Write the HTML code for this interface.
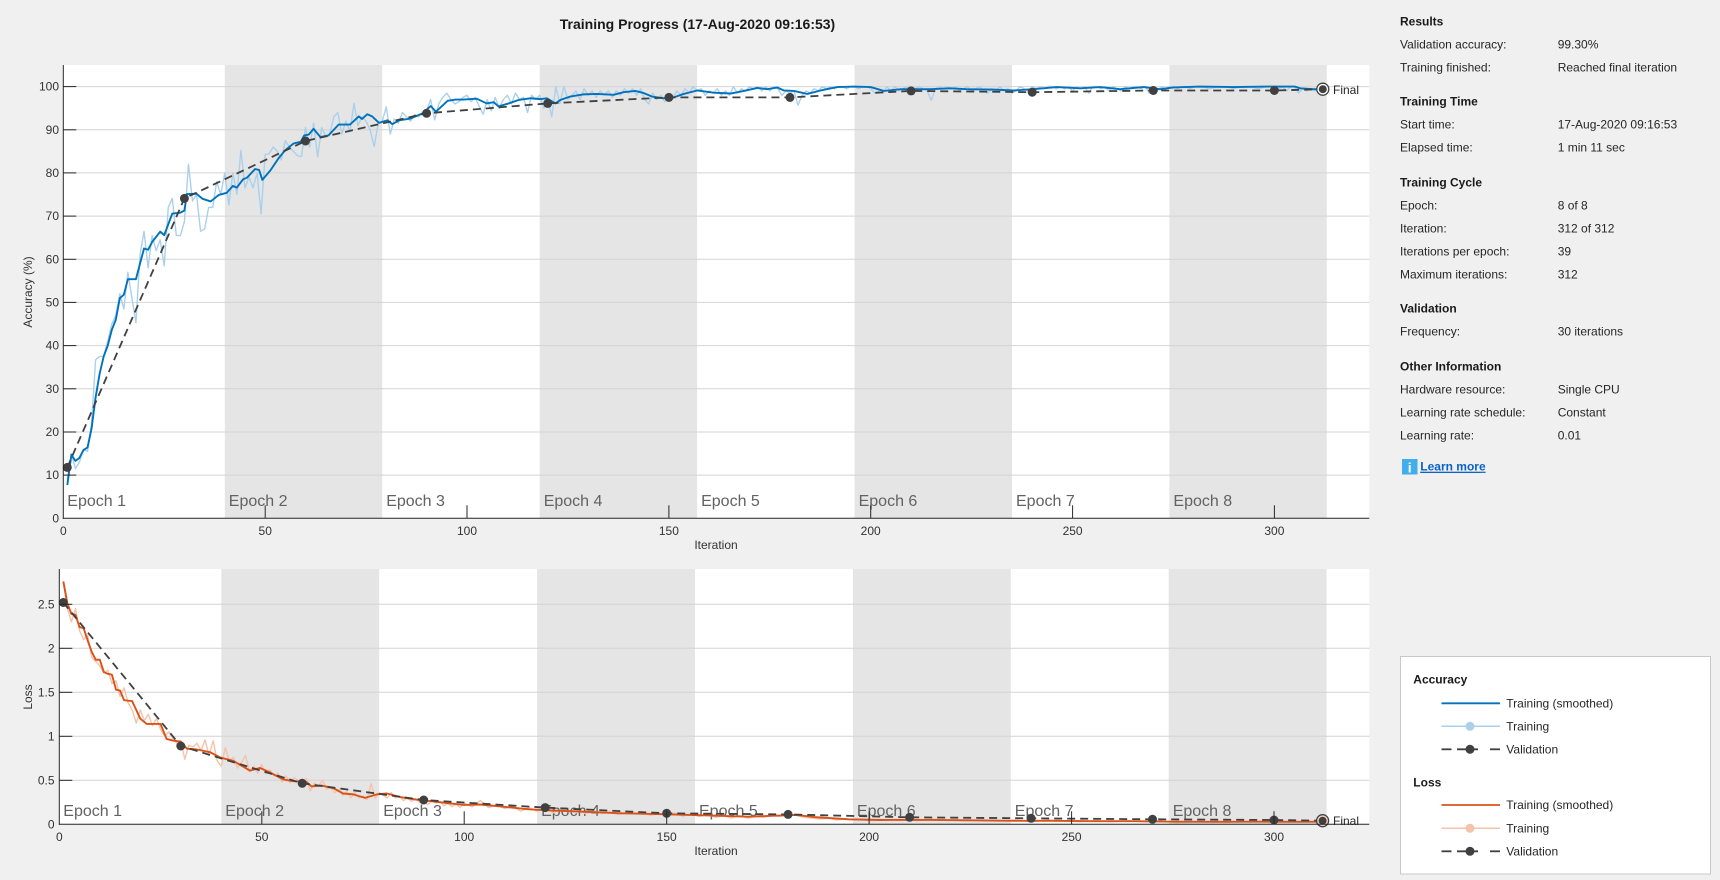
<!DOCTYPE html>
<html>
<head>
<meta charset="utf-8">
<style>
  html,body{margin:0;padding:0;background:#f0f0f0;}
  body{width:1720px;height:880px;overflow:hidden;}
  svg{display:block;}
  text{font-family:"Liberation Sans",Arial,sans-serif;}
</style>
</head>
<body>
<svg width="1720" height="880" viewBox="0 0 1720 880" xmlns="http://www.w3.org/2000/svg">
  <rect x="0" y="0" width="1720" height="880" fill="#f0f0f0"/>

  <!-- Title -->
  <text x="697.5" y="29" font-size="14" font-weight="bold" fill="#1a1a1a" text-anchor="middle">Training Progress (17-Aug-2020 09:16:53)</text>

  <!-- ================= ACCURACY AXES ================= -->
  <rect x="63.3" y="65" width="1306" height="453.3" fill="#ffffff"/>
  <g fill="#e5e5e5">
    <rect x="224.8" y="65" width="157.4" height="453.3"/>
    <rect x="539.7" y="65" width="157.4" height="453.3"/>
    <rect x="854.6" y="65" width="157.4" height="453.3"/>
    <rect x="1169.4" y="65" width="157.4" height="453.3"/>
  </g>
  <g stroke="#d4d4d4" stroke-width="1">
    <line x1="63.3" x2="1369.3" y1="475.1" y2="475.1"/>
    <line x1="63.3" x2="1369.3" y1="432.0" y2="432.0"/>
    <line x1="63.3" x2="1369.3" y1="388.8" y2="388.8"/>
    <line x1="63.3" x2="1369.3" y1="345.6" y2="345.6"/>
    <line x1="63.3" x2="1369.3" y1="302.4" y2="302.4"/>
    <line x1="63.3" x2="1369.3" y1="259.3" y2="259.3"/>
    <line x1="63.3" x2="1369.3" y1="216.1" y2="216.1"/>
    <line x1="63.3" x2="1369.3" y1="172.9" y2="172.9"/>
    <line x1="63.3" x2="1369.3" y1="129.8" y2="129.8"/>
    <line x1="63.3" x2="1369.3" y1="86.6" y2="86.6"/>
  </g>
  <!-- epoch labels -->
  <g font-size="16" fill="#626262">
    <text x="67.3" y="506">Epoch 1</text>
    <text x="228.8" y="506">Epoch 2</text>
    <text x="386.2" y="506">Epoch 3</text>
    <text x="543.7" y="506">Epoch 4</text>
    <text x="701.1" y="506">Epoch 5</text>
    <text x="858.6" y="506">Epoch 6</text>
    <text x="1016" y="506">Epoch 7</text>
    <text x="1173.4" y="506">Epoch 8</text>
  </g>

  <!-- accuracy data -->
  <g transform="matrix(4.037,0,0,-4.317,63.3,518.3)" fill="none" stroke-linejoin="round">
    <polyline vector-effect="non-scaling-stroke" stroke="#abd0ec" stroke-width="1.4" points="1,9 2,15 3,11.5 4,13 5,16 6,15.5 7,22 8,36.7 9,37.5 10,37.5 11,41 12,45 13,47 14,52 15,48.5 16,57 17,51 18,45.3 19,61 20,66.5 21,58 22,65.5 23,62 24,64.5 25,58.5 26,72 27,74.1 28,65.5 29,65.5 30,68.7 31,82 32,73.5 33,75 34,66.5 35,67 36,72 37,72 38,78 39,75 40,80 41,72.6 42,80 43,75 44,85.3 45,76.5 46,79 47,76.5 48,80 49,70.5 50,84.3 51,84.5 52,86 53,85 54,83 55,87.5 56,86 57,85 58,84 59,83.8 60,90.5 61,86 62,91.5 63,83.7 64,90.5 65,88.5 66,89 67,93 68,94 69,89 70,92 71,89.5 72,96.1 73,91 74,93 75,92 76,90 77,86.1 78,91.5 79,92 80,95.3 81,89 82,92.5 83,91.5 84,94 85,93 86,92 87,93.5 88,93 89,94 90,94.5 91,97 92,92.3 93,96 94,97.5 95,98.5 96,97 97,96 98,96.5 99,97.5 100,98 101,96.5 102,97.5 103,95.5 104,93.6 105,97 106,94.4 107,97.5 108,95 109,97 110,98 111,96 112,98.5 113,97 114,97.5 115,94 116,98 117,97 118,98 119,95 120,97 121,93 122,100 123,96 124,100 125,97 126,98 127,99 128,97 129,99.5 130,98 131,99 132,97.5 133,99 134,98 135,99 136,97.5 137,99 138,98 139,99.5 140,98.5 141,99.5 142,98 143,99.5 144,97 145,96 146,98.5 147,97 148,98 149,96.5 150,98 151,97.5 152,99 153,98 154,99.5 155,98.5 156,100 157,99 158,99.5 159,98 160,99 161,98.5 162,99.5 163,98 164,99 165,98 166,100 167,98.5 168,99.5 169,99 170,100 171,99.5 172,100 173,99 174,100 175,99 176,100 177,99.5 178,98 179,99 180,98.5 181,99 182,95.7 183,98 184,99 185,98.5 186,99.5 187,99 188,100 189,99.5 190,100 191,99.5 192,100 193,100 194,99.5 195,100 196,100 197,99.5 198,100 199,100 200,99.5 201,98.5 202,99 203,98.5 204,100 205,99 206,100 207,99 208,99.5 209,100 210,99 211,99.5 212,100 213,99.5 214,99 215,96.8 216,99.5 217,100 218,99.5 219,100 220,99.5 221,100 222,99 223,99.5 224,100 225,99 226,99.5 227,100 228,99 229,98.5 230,99.5 231,99 232,100 233,99 234,99.5 235,98.5 236,99 237,100 238,99.5 239,99 240,100 241,99.5 242,100 243,99.5 244,100 245,100 246,99.5 247,100 248,99.5 249,100 250,99 251,100 252,99.5 253,100 254,98.5 255,100 256,100 257,99.5 258,100 259,99 260,100 261,99.5 262,99 263,100 264,99.5 265,100 266,100 267,99.5 268,100 269,98.5 270,99.5 271,99 272,100 273,99.5 274,100 275,100 276,99.5 277,100 278,100 279,99.5 280,100 282,100 284,99.5 286,100 288,100 290,99.5 292,100 294,100 296,99.5 298,100 300,100 301,99.5 302,100 303,99 304,100 305,100 306,98.5 307,99.5 308,99 309,99.5 310,99 311,99.5 312,99.3"/>
    <polyline vector-effect="non-scaling-stroke" stroke="#0072bd" stroke-width="1.9" points="1,7.7 2,14.7 3,13.3 4,14 5,15.8 6,16.4 7,20.8 8,28 9,33.5 10,37.5 11,40 12,43.6 13,46 14,51 15,51.8 16,55.4 18,55.4 19,59 20,62.5 21,62.2 22,64 24,66.4 25,65.6 27,70.6 29,70.8 30,71.3 30.6,75.1 33,75.2 34.5,74 36.5,73.4 38.5,74.9 40.5,75.4 42,77 43,76.6 44.5,78.5 45.5,78.9 47.5,80.9 48.5,80.7 49.3,78.4 51.3,80.6 53.4,83.5 55,85.3 57,86.8 58.8,87.2 59.7,88.7 60.8,88.9 62,90.2 63.7,88.3 65.7,88.7 68.2,91.2 71,91.2 73.2,93.1 74,92.5 75.3,93.6 76.5,93.1 78.2,91.6 80.3,92.2 81.5,91.3 83.2,92.2 86,92.6 89,93.8 91,95.5 92.3,94.2 95.2,96.7 97.2,97 99.1,97 102.4,97.2 104.9,96.1 106.6,96.4 107.8,95.4 110.3,96.1 112.8,96.9 115.7,97.3 118.2,97.1 119.8,97.3 121.9,96.1 123.1,96.9 125.6,97.7 128.9,98.2 132.2,98.3 136.3,98.1 138.8,98.7 141.7,99 143.8,98.5 145.8,97.7 148.7,97.3 151.2,97.5 153.7,98.3 157,99.1 161.1,98.6 165.3,98.4 168.6,99 171.9,99.7 174.4,99.4 176.9,99.8 178.5,99.1 181,99 184.3,98.3 187.6,99.1 191.7,99.9 195.9,100 200,99.9 203.3,99 207.5,99.4 211.6,99.4 214.7,99.4 219.7,99.6 223.8,99.4 230.4,99.3 235.4,99.1 240.3,99.4 246.1,99.9 251.9,99.6 256.8,99.9 261.8,99.4 267.6,99.9 271.7,99.4 275,99.8 281.6,100 289.9,99.9 298.1,100 305.1,100 306.4,99.6 309.7,99.4 312,99.4"/>
  </g>
  <!-- accuracy validation -->
  <polyline fill="none" stroke="#404040" stroke-width="1.8" stroke-dasharray="8,5" points="67.3,467.4 184.4,198.4 305.5,141.0 426.6,113.3 547.7,103.4 668.9,97.4 790.0,97.4 911.1,90.9 1032.2,92.2 1153.3,90.5 1274.4,90.5 1322.8,89.2"/>
  <g fill="#404040">
    <circle cx="67.3" cy="467.4" r="4.5"/>
    <circle cx="184.4" cy="198.4" r="4.5"/>
    <circle cx="305.5" cy="141.0" r="4.5"/>
    <circle cx="426.6" cy="113.3" r="4.5"/>
    <circle cx="547.7" cy="103.4" r="4.5"/>
    <circle cx="668.9" cy="97.4" r="4.5"/>
    <circle cx="790.0" cy="97.4" r="4.5"/>
    <circle cx="911.1" cy="90.9" r="4.5"/>
    <circle cx="1032.2" cy="92.2" r="4.5"/>
    <circle cx="1153.3" cy="90.5" r="4.5"/>
    <circle cx="1274.4" cy="90.5" r="4.5"/>
  </g>
  <circle cx="1322.8" cy="89.2" r="6" fill="#ffffff" stroke="#404040" stroke-width="1.3"/>
  <circle cx="1322.8" cy="89.2" r="4" fill="#404040"/>
  <text x="1333" y="94" font-size="12" fill="#262626">Final</text>

  <!-- axes lines & ticks -->
  <g stroke="#262626" stroke-width="1">
    <line x1="63.3" y1="65" x2="63.3" y2="518.8"/>
    <line x1="62.8" y1="518.3" x2="1369.3" y2="518.3"/>
    <line x1="63.3" x2="76.3" y1="475.1" y2="475.1"/>
    <line x1="63.3" x2="76.3" y1="432.0" y2="432.0"/>
    <line x1="63.3" x2="76.3" y1="388.8" y2="388.8"/>
    <line x1="63.3" x2="76.3" y1="345.6" y2="345.6"/>
    <line x1="63.3" x2="76.3" y1="302.4" y2="302.4"/>
    <line x1="63.3" x2="76.3" y1="259.3" y2="259.3"/>
    <line x1="63.3" x2="76.3" y1="216.1" y2="216.1"/>
    <line x1="63.3" x2="76.3" y1="172.9" y2="172.9"/>
    <line x1="63.3" x2="76.3" y1="129.8" y2="129.8"/>
    <line x1="63.3" x2="76.3" y1="86.6" y2="86.6"/>
    <line x1="265.2" x2="265.2" y1="518.3" y2="505.3"/>
    <line x1="467.0" x2="467.0" y1="518.3" y2="505.3"/>
    <line x1="668.9" x2="668.9" y1="518.3" y2="505.3"/>
    <line x1="870.7" x2="870.7" y1="518.3" y2="505.3"/>
    <line x1="1072.6" x2="1072.6" y1="518.3" y2="505.3"/>
    <line x1="1274.4" x2="1274.4" y1="518.3" y2="505.3"/>
  </g>
  <g font-size="12" fill="#333333" text-anchor="end">
    <text x="59" y="522.3">0</text>
    <text x="59" y="479.1">10</text>
    <text x="59" y="436.0">20</text>
    <text x="59" y="392.8">30</text>
    <text x="59" y="349.6">40</text>
    <text x="59" y="306.4">50</text>
    <text x="59" y="263.3">60</text>
    <text x="59" y="220.1">70</text>
    <text x="59" y="176.9">80</text>
    <text x="59" y="133.8">90</text>
    <text x="59" y="90.6">100</text>
  </g>
  <g font-size="12" fill="#333333" text-anchor="middle">
    <text x="63.3" y="535">0</text>
    <text x="265.2" y="535">50</text>
    <text x="467.0" y="535">100</text>
    <text x="668.9" y="535">150</text>
    <text x="870.7" y="535">200</text>
    <text x="1072.6" y="535">250</text>
    <text x="1274.4" y="535">300</text>
    <text x="716" y="549">Iteration</text>
  </g>
  <text transform="translate(32,292) rotate(-90)" font-size="12" fill="#333333" text-anchor="middle">Accuracy (%)</text>

  <!-- ================= LOSS AXES ================= -->
  <rect x="59.3" y="569" width="1310" height="255.3" fill="#ffffff"/>
  <g fill="#e5e5e5">
    <rect x="221.3" y="569" width="157.9" height="255.3"/>
    <rect x="537.1" y="569" width="157.9" height="255.3"/>
    <rect x="852.9" y="569" width="157.9" height="255.3"/>
    <rect x="1168.7" y="569" width="157.9" height="255.3"/>
  </g>
  <g stroke="#d4d4d4" stroke-width="1">
    <line x1="59.3" x2="1369.3" y1="780.3" y2="780.3"/>
    <line x1="59.3" x2="1369.3" y1="736.3" y2="736.3"/>
    <line x1="59.3" x2="1369.3" y1="692.3" y2="692.3"/>
    <line x1="59.3" x2="1369.3" y1="648.3" y2="648.3"/>
    <line x1="59.3" x2="1369.3" y1="604.3" y2="604.3"/>
  </g>
  <g font-size="16" fill="#626262">
    <text x="63.3" y="816">Epoch 1</text>
    <text x="225.3" y="816">Epoch 2</text>
    <text x="383.2" y="816">Epoch 3</text>
    <text x="541.1" y="816">Epoch 4</text>
    <text x="699" y="816">Epoch 5</text>
    <text x="856.9" y="816">Epoch 6</text>
    <text x="1014.8" y="816">Epoch 7</text>
    <text x="1172.7" y="816">Epoch 8</text>
  </g>

  <g transform="matrix(4.049,0,0,-88,59.3,824.3)" fill="none" stroke-linejoin="round">
    <polyline vector-effect="non-scaling-stroke" stroke="#f4c3ab" stroke-width="1.4" points="1,2.76 2,2.45 3,2.3 4,2.45 5,2.2 6,2.1 7,2.15 8,1.9 9,1.85 10,1.8 11,1.72 12,1.75 13,1.6 14,1.63 15,1.45 16,1.55 17,1.38 18,1.3 19,1.15 20,1.3 21,1.18 22,1.25 23,1.12 24,1.2 25,1.08 26,1.0 27,1.05 28,0.98 29,0.92 30,0.95 31,0.74 32,0.9 33,0.88 34,0.92 35,0.84 36,0.96 37,0.78 38,0.95 39,0.72 40,0.66 41,0.87 42,0.72 43,0.76 44,0.64 45,0.7 46,0.78 47,0.6 48,0.66 49,0.58 50,0.68 51,0.57 52,0.62 53,0.55 54,0.58 55,0.48 56,0.55 57,0.47 58,0.53 59,0.5 60,0.44 61,0.52 62,0.38 63,0.47 64,0.43 65,0.5 66,0.4 67,0.42 68,0.36 69,0.4 70,0.33 71,0.37 72,0.3 73,0.36 74,0.3 75,0.32 76,0.28 77,0.46 78,0.3 79,0.36 80,0.33 81,0.3 82,0.36 83,0.3 84,0.32 85,0.27 86,0.3 87,0.26 88,0.29 89,0.25 90,0.27 91,0.22 92,0.27 93,0.24 94,0.26 95,0.21 96,0.24 97,0.2 98,0.23 99,0.19 100,0.24 102,0.2 104,0.27 106,0.19 108,0.22 110,0.18 112,0.2 114,0.15 116,0.19 118,0.15 120,0.18 122,0.13 124,0.17 126,0.14 128,0.16 130,0.12 132,0.15 134,0.12 136,0.14 138,0.11 140,0.13 142,0.12 144,0.14 146,0.1 148,0.12 150,0.1 152,0.13 154,0.09 156,0.12 158,0.09 160,0.11 162,0.08 164,0.1 166,0.07 168,0.1 170,0.07 172,0.09 174,0.08 176,0.1 178,0.09 180,0.12 182,0.1 184,0.08 186,0.07 188,0.06 190,0.07 192,0.05 194,0.06 196,0.05 198,0.06 200,0.04 204,0.05 208,0.06 212,0.04 216,0.06 220,0.05 224,0.04 228,0.05 232,0.04 236,0.05 240,0.03 244,0.05 248,0.04 252,0.03 256,0.04 260,0.03 264,0.04 268,0.03 272,0.04 276,0.02 280,0.03 284,0.03 288,0.02 292,0.03 296,0.03 300,0.02 304,0.03 308,0.03 312,0.03"/>
    <polyline vector-effect="non-scaling-stroke" stroke="#d95319" stroke-width="1.9" points="1,2.76 2,2.51 3,2.39 4,2.38 5,2.24 6,2.23 7,2.09 8,1.96 9,1.87 10,1.87 11,1.73 12,1.71 13,1.7 14,1.53 15,1.52 16,1.41 18,1.4 20,1.2 21.6,1.14 25,1.14 26.5,0.97 28.2,0.95 30,0.94 31.5,0.86 34,0.85 37.2,0.82 39.7,0.76 43,0.72 47.1,0.61 49.6,0.64 52,0.59 55.3,0.51 57.8,0.49 61.1,0.48 62.3,0.43 64.8,0.44 67.7,0.41 70.1,0.35 72.6,0.34 75.5,0.3 78.4,0.34 80.9,0.35 84.2,0.31 88.3,0.28 92.4,0.26 96,0.24 100,0.22 104,0.225 109.6,0.2 116,0.17 120,0.16 129,0.144 139,0.125 150,0.114 159,0.102 170,0.087 182,0.106 187,0.08 195,0.057 203,0.049 215,0.05 225,0.045 235,0.04 245,0.04 255,0.035 265,0.035 275,0.03 285,0.028 295,0.03 305,0.028 312,0.03"/>
  </g>
  <polyline fill="none" stroke="#404040" stroke-width="1.8" stroke-dasharray="8,5" points="63.3,602.5 180.8,746.0 302.2,783.3 423.7,800.0 545.2,807.6 666.7,813.3 788.1,814.4 909.6,817.3 1031.1,818.3 1152.5,819.3 1274.0,820.0 1322.6,820.7"/>
  <g fill="#404040">
    <circle cx="63.3" cy="602.5" r="4.5"/>
    <circle cx="180.8" cy="746.0" r="4.5"/>
    <circle cx="302.2" cy="783.3" r="4.5"/>
    <circle cx="423.7" cy="800.0" r="4.5"/>
    <circle cx="545.2" cy="807.6" r="4.5"/>
    <circle cx="666.7" cy="813.3" r="4.5"/>
    <circle cx="788.1" cy="814.4" r="4.5"/>
    <circle cx="909.6" cy="817.3" r="4.5"/>
    <circle cx="1031.1" cy="818.3" r="4.5"/>
    <circle cx="1152.5" cy="819.3" r="4.5"/>
    <circle cx="1274.0" cy="820.0" r="4.5"/>
  </g>
  <circle cx="1322.6" cy="820.7" r="6" fill="#f6d2c2" stroke="#404040" stroke-width="1.3"/>
  <circle cx="1322.6" cy="820.7" r="4" fill="#404040"/>
  <text x="1333" y="825" font-size="12" fill="#262626">Final</text>

  <g stroke="#262626" stroke-width="1">
    <line x1="59.3" y1="569" x2="59.3" y2="824.8"/>
    <line x1="58.8" y1="824.3" x2="1369.3" y2="824.3"/>
    <line x1="59.3" x2="72.3" y1="780.3" y2="780.3"/>
    <line x1="59.3" x2="72.3" y1="736.3" y2="736.3"/>
    <line x1="59.3" x2="72.3" y1="692.3" y2="692.3"/>
    <line x1="59.3" x2="72.3" y1="648.3" y2="648.3"/>
    <line x1="59.3" x2="72.3" y1="604.3" y2="604.3"/>
    <line x1="261.8" x2="261.8" y1="824.3" y2="811.3"/>
    <line x1="464.2" x2="464.2" y1="824.3" y2="811.3"/>
    <line x1="666.7" x2="666.7" y1="824.3" y2="811.3"/>
    <line x1="869.1" x2="869.1" y1="824.3" y2="811.3"/>
    <line x1="1071.6" x2="1071.6" y1="824.3" y2="811.3"/>
    <line x1="1274.0" x2="1274.0" y1="824.3" y2="811.3"/>
  </g>
  <g font-size="12" fill="#333333" text-anchor="end">
    <text x="54.5" y="828.3">0</text>
    <text x="54.5" y="784.3">0.5</text>
    <text x="54.5" y="740.3">1</text>
    <text x="54.5" y="696.3">1.5</text>
    <text x="54.5" y="652.3">2</text>
    <text x="54.5" y="608.3">2.5</text>
  </g>
  <g font-size="12" fill="#333333" text-anchor="middle">
    <text x="59.3" y="841">0</text>
    <text x="261.8" y="841">50</text>
    <text x="464.2" y="841">100</text>
    <text x="666.7" y="841">150</text>
    <text x="869.1" y="841">200</text>
    <text x="1071.6" y="841">250</text>
    <text x="1274.0" y="841">300</text>
    <text x="716" y="855">Iteration</text>
  </g>
  <text transform="translate(32,697) rotate(-90)" font-size="12" fill="#333333" text-anchor="middle">Loss</text>

  <!-- ================= RIGHT PANEL ================= -->
  <g font-size="12" fill="#1a1a1a" font-weight="bold">
    <text x="1400" y="25.7">Results</text>
    <text x="1400" y="105.7">Training Time</text>
    <text x="1400" y="186.7">Training Cycle</text>
    <text x="1400" y="312.7">Validation</text>
    <text x="1400" y="370.7">Other Information</text>
  </g>
  <g font-size="12" fill="#262626">
    <text x="1400" y="48.7">Validation accuracy:</text>
    <text x="1557.7" y="48.7">99.30%</text>
    <text x="1400" y="71.7">Training finished:</text>
    <text x="1557.7" y="71.7">Reached final iteration</text>
    <text x="1400" y="128.3">Start time:</text>
    <text x="1557.7" y="128.3">17-Aug-2020 09:16:53</text>
    <text x="1400" y="151.7">Elapsed time:</text>
    <text x="1557.7" y="151.7">1 min 11 sec</text>
    <text x="1400" y="209.7">Epoch:</text>
    <text x="1557.7" y="209.7">8 of 8</text>
    <text x="1400" y="232.7">Iteration:</text>
    <text x="1557.7" y="232.7">312 of 312</text>
    <text x="1400" y="255.7">Iterations per epoch:</text>
    <text x="1557.7" y="255.7">39</text>
    <text x="1400" y="278.7">Maximum iterations:</text>
    <text x="1557.7" y="278.7">312</text>
    <text x="1400" y="335.7">Frequency:</text>
    <text x="1557.7" y="335.7">30 iterations</text>
    <text x="1400" y="393.7">Hardware resource:</text>
    <text x="1557.7" y="393.7">Single CPU</text>
    <text x="1400" y="416.7">Learning rate schedule:</text>
    <text x="1557.7" y="416.7">Constant</text>
    <text x="1400" y="439.7">Learning rate:</text>
    <text x="1557.7" y="439.7">0.01</text>
  </g>
  <rect x="1402" y="459" width="15.5" height="15.5" fill="#42aeea"/>
  <text x="1409.75" y="472.5" font-size="14" font-weight="bold" fill="#ffffff" text-anchor="middle">i</text>
  <text x="1420.3" y="470.7" font-size="12" font-weight="bold" fill="#0a62c8" text-decoration="underline">Learn more</text>
  <line x1="1420.3" y1="472.5" x2="1480.5" y2="472.5" stroke="#0a62c8" stroke-width="1"/>

  <!-- Legend -->
  <rect x="1400.5" y="656.5" width="310" height="217.5" fill="#ffffff" stroke="#c8c8c8" stroke-width="1"/>
  <g font-size="12" font-weight="bold" fill="#1a1a1a">
    <text x="1413.3" y="683.3">Accuracy</text>
    <text x="1413.3" y="786.7">Loss</text>
  </g>
  <g font-size="12" fill="#262626">
    <text x="1506.3" y="707.3">Training (smoothed)</text>
    <text x="1506.3" y="730.3">Training</text>
    <text x="1506.3" y="753.3">Validation</text>
    <text x="1506.3" y="809">Training (smoothed)</text>
    <text x="1506.3" y="832.3">Training</text>
    <text x="1506.3" y="855.3">Validation</text>
  </g>
  <!-- accuracy legend samples -->
  <line x1="1441.5" y1="703.3" x2="1500" y2="703.3" stroke="#0072bd" stroke-width="1.8"/>
  <line x1="1441.5" y1="726.3" x2="1500" y2="726.3" stroke="#abd0ec" stroke-width="1.5"/>
  <circle cx="1470" cy="726.3" r="4.5" fill="#abd0ec"/>
  <g stroke="#404040" stroke-width="1.8">
    <line x1="1441.5" y1="749.3" x2="1451.5" y2="749.3"/>
    <line x1="1457" y1="749.3" x2="1478" y2="749.3"/>
    <line x1="1490" y1="749.3" x2="1500" y2="749.3"/>
  </g>
  <circle cx="1470" cy="749.3" r="4.5" fill="#404040"/>
  <!-- loss legend samples -->
  <line x1="1441.5" y1="805" x2="1500" y2="805" stroke="#d95319" stroke-width="1.8"/>
  <line x1="1441.5" y1="828.3" x2="1500" y2="828.3" stroke="#f4c3ab" stroke-width="1.5"/>
  <circle cx="1470" cy="828.3" r="4.5" fill="#f4c3ab"/>
  <g stroke="#404040" stroke-width="1.8">
    <line x1="1441.5" y1="851.3" x2="1451.5" y2="851.3"/>
    <line x1="1457" y1="851.3" x2="1478" y2="851.3"/>
    <line x1="1490" y1="851.3" x2="1500" y2="851.3"/>
  </g>
  <circle cx="1470" cy="851.3" r="4.5" fill="#404040"/>
</svg>
</body>
</html>
